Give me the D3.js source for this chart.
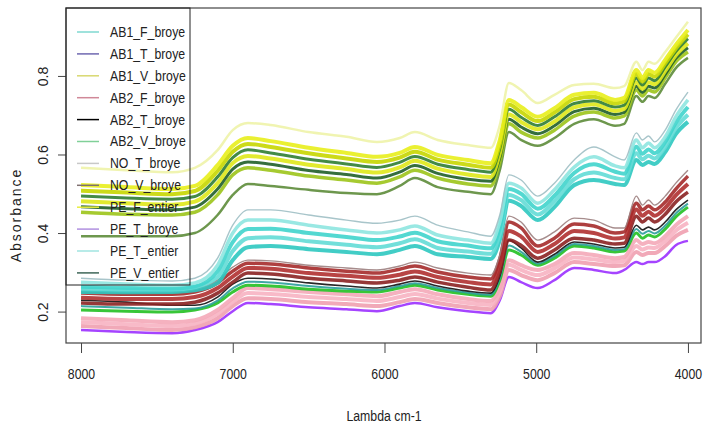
<!DOCTYPE html>
<html>
<head>
<meta charset="utf-8">
<script src="https://cdn.jsdelivr.net/npm/d3@7"></script>
<style>
  body { margin: 0; background: #fff; }
  text { fill: #222; }
</style>
</head>
<body>
<svg id="chart"></svg>
<script>
const wavenumbers = [8000, 7700, 7400, 7250, 7100, 7000, 6900, 6750, 6500, 6250, 6050, 5900, 5800, 5650, 5450, 5300,
    5240, 5180, 5100, 4990, 4880, 4750, 4620, 4480, 4420, 4340, 4300, 4260, 4220, 4150, 4080, 4000];

const groups = ["AB1_F_broye", "AB1_T_broye", "AB1_V_broye", "AB2_F_broye", "AB2_T_broye", "AB2_V_broye",
    "NO_T_broye", "NO_V_broye", "PE_F_entier", "PE_T_broye", "PE_T_entier", "PE_V_entier"];

const xTicks = [8000, 7000, 6000, 5000, 4000];
const yTicks = [0.2, 0.4, 0.6, 0.8];

// Upper (yellow / dark green) band
const upperTop = [0.566, 0.560, 0.555, 0.566, 0.611, 0.662, 0.680, 0.675, 0.657, 0.645, 0.632, 0.642, 0.657, 0.637, 0.624, 0.617, 0.675, 0.782, 0.764, 0.731, 0.752, 0.777, 0.780, 0.769, 0.774, 0.836, 0.815, 0.836, 0.831, 0.861, 0.897, 0.938];
const upperA = [0.522, 0.517, 0.512, 0.520, 0.573, 0.622, 0.642, 0.634, 0.617, 0.604, 0.594, 0.604, 0.619, 0.599, 0.586, 0.578, 0.637, 0.739, 0.721, 0.696, 0.718, 0.752, 0.757, 0.739, 0.744, 0.815, 0.795, 0.815, 0.808, 0.841, 0.879, 0.917];
const upperB = [0.508, 0.503, 0.499, 0.507, 0.558, 0.607, 0.627, 0.619, 0.603, 0.590, 0.581, 0.592, 0.607, 0.587, 0.574, 0.566, 0.626, 0.727, 0.708, 0.685, 0.707, 0.741, 0.747, 0.730, 0.735, 0.805, 0.786, 0.805, 0.798, 0.832, 0.870, 0.906];
const upperC = [0.494, 0.489, 0.486, 0.493, 0.543, 0.592, 0.612, 0.604, 0.588, 0.576, 0.567, 0.580, 0.595, 0.575, 0.562, 0.555, 0.615, 0.715, 0.695, 0.674, 0.696, 0.730, 0.737, 0.721, 0.726, 0.795, 0.777, 0.795, 0.788, 0.823, 0.862, 0.895];
const upperD = [0.481, 0.476, 0.472, 0.480, 0.527, 0.578, 0.596, 0.590, 0.574, 0.563, 0.554, 0.567, 0.584, 0.564, 0.549, 0.543, 0.603, 0.702, 0.683, 0.664, 0.684, 0.720, 0.728, 0.711, 0.716, 0.784, 0.767, 0.784, 0.779, 0.813, 0.853, 0.883];
const upperE = [0.467, 0.462, 0.459, 0.466, 0.512, 0.563, 0.581, 0.575, 0.559, 0.549, 0.540, 0.555, 0.572, 0.552, 0.537, 0.532, 0.592, 0.690, 0.670, 0.653, 0.673, 0.709, 0.718, 0.702, 0.707, 0.774, 0.758, 0.774, 0.769, 0.804, 0.845, 0.872];
const upperF = [0.453, 0.448, 0.446, 0.453, 0.497, 0.548, 0.566, 0.560, 0.545, 0.535, 0.527, 0.543, 0.560, 0.540, 0.525, 0.520, 0.581, 0.678, 0.657, 0.642, 0.662, 0.698, 0.708, 0.693, 0.698, 0.764, 0.749, 0.764, 0.759, 0.795, 0.836, 0.861];
const upperLow = [0.392, 0.392, 0.392, 0.400, 0.446, 0.497, 0.525, 0.520, 0.510, 0.502, 0.499, 0.520, 0.540, 0.517, 0.505, 0.499, 0.560, 0.657, 0.637, 0.622, 0.642, 0.678, 0.690, 0.673, 0.678, 0.749, 0.734, 0.749, 0.744, 0.780, 0.820, 0.846];

// Middle (turquoise) band
const turqTop = [0.285, 0.280, 0.278, 0.285, 0.336, 0.420, 0.459, 0.459, 0.446, 0.433, 0.425, 0.433, 0.443, 0.420, 0.403, 0.392, 0.446, 0.548, 0.535, 0.494, 0.527, 0.586, 0.619, 0.594, 0.586, 0.655, 0.637, 0.647, 0.632, 0.662, 0.713, 0.759];
const turqA = [0.275, 0.270, 0.267, 0.273, 0.318, 0.400, 0.433, 0.433, 0.420, 0.408, 0.400, 0.408, 0.418, 0.395, 0.382, 0.374, 0.428, 0.527, 0.515, 0.476, 0.510, 0.568, 0.594, 0.571, 0.566, 0.637, 0.617, 0.629, 0.617, 0.645, 0.696, 0.739];
const turqB = [0.263, 0.260, 0.259, 0.264, 0.303, 0.377, 0.410, 0.411, 0.400, 0.390, 0.382, 0.391, 0.401, 0.379, 0.368, 0.361, 0.413, 0.512, 0.500, 0.462, 0.495, 0.553, 0.575, 0.556, 0.551, 0.620, 0.602, 0.613, 0.603, 0.632, 0.681, 0.721];
const turqC = [0.258, 0.256, 0.256, 0.262, 0.288, 0.354, 0.387, 0.389, 0.379, 0.370, 0.364, 0.374, 0.384, 0.362, 0.353, 0.347, 0.397, 0.497, 0.484, 0.447, 0.481, 0.537, 0.554, 0.540, 0.537, 0.603, 0.588, 0.597, 0.590, 0.619, 0.667, 0.701];
const turqD = [0.250, 0.249, 0.250, 0.254, 0.273, 0.331, 0.364, 0.367, 0.359, 0.352, 0.346, 0.357, 0.367, 0.346, 0.339, 0.334, 0.382, 0.482, 0.469, 0.433, 0.466, 0.522, 0.535, 0.525, 0.522, 0.586, 0.573, 0.581, 0.576, 0.606, 0.652, 0.683];

// Lower (red / pink / mixed) band
const lowTop = [0.255, 0.252, 0.252, 0.257, 0.280, 0.313, 0.331, 0.329, 0.318, 0.311, 0.306, 0.316, 0.326, 0.311, 0.298, 0.293, 0.344, 0.443, 0.428, 0.382, 0.403, 0.438, 0.433, 0.413, 0.413, 0.494, 0.471, 0.484, 0.471, 0.494, 0.527, 0.560];
const redA = [0.247, 0.244, 0.244, 0.250, 0.273, 0.303, 0.323, 0.321, 0.311, 0.303, 0.298, 0.308, 0.316, 0.301, 0.288, 0.283, 0.334, 0.428, 0.413, 0.367, 0.387, 0.423, 0.418, 0.400, 0.403, 0.476, 0.459, 0.469, 0.459, 0.479, 0.512, 0.545];
const redM = [0.235, 0.232, 0.232, 0.237, 0.260, 0.289, 0.311, 0.309, 0.298, 0.291, 0.286, 0.294, 0.302, 0.288, 0.275, 0.269, 0.318, 0.405, 0.391, 0.352, 0.372, 0.405, 0.400, 0.386, 0.389, 0.460, 0.444, 0.454, 0.444, 0.464, 0.496, 0.525];
const redB = [0.222, 0.219, 0.219, 0.224, 0.247, 0.275, 0.298, 0.296, 0.285, 0.278, 0.273, 0.280, 0.288, 0.275, 0.262, 0.255, 0.301, 0.382, 0.369, 0.336, 0.357, 0.387, 0.382, 0.372, 0.374, 0.443, 0.428, 0.438, 0.428, 0.448, 0.479, 0.504];
const blackLine = [0.229, 0.224, 0.216, 0.216, 0.237, 0.270, 0.285, 0.283, 0.273, 0.265, 0.260, 0.270, 0.278, 0.265, 0.252, 0.247, 0.290, 0.382, 0.362, 0.326, 0.346, 0.377, 0.372, 0.362, 0.364, 0.420, 0.408, 0.415, 0.408, 0.428, 0.459, 0.484];
const tealLine = [0.214, 0.210, 0.206, 0.208, 0.228, 0.259, 0.276, 0.274, 0.265, 0.258, 0.255, 0.265, 0.272, 0.260, 0.248, 0.243, 0.285, 0.368, 0.352, 0.322, 0.341, 0.372, 0.367, 0.357, 0.359, 0.410, 0.398, 0.405, 0.399, 0.419, 0.450, 0.475];
const greenLine = [0.204, 0.201, 0.199, 0.204, 0.222, 0.250, 0.267, 0.265, 0.257, 0.252, 0.250, 0.260, 0.267, 0.255, 0.244, 0.239, 0.280, 0.357, 0.344, 0.318, 0.336, 0.367, 0.362, 0.352, 0.354, 0.400, 0.387, 0.395, 0.390, 0.410, 0.441, 0.466];
const pinkA = [0.183, 0.178, 0.173, 0.178, 0.204, 0.234, 0.260, 0.257, 0.250, 0.244, 0.239, 0.250, 0.257, 0.244, 0.232, 0.227, 0.260, 0.331, 0.318, 0.306, 0.321, 0.349, 0.344, 0.336, 0.339, 0.382, 0.372, 0.377, 0.374, 0.392, 0.420, 0.443];
const pinkM = [0.173, 0.168, 0.163, 0.169, 0.194, 0.224, 0.247, 0.245, 0.237, 0.232, 0.227, 0.237, 0.245, 0.233, 0.222, 0.217, 0.250, 0.319, 0.306, 0.293, 0.310, 0.338, 0.333, 0.326, 0.329, 0.367, 0.358, 0.363, 0.362, 0.380, 0.406, 0.426];
const pinkB = [0.163, 0.158, 0.153, 0.160, 0.183, 0.214, 0.234, 0.232, 0.224, 0.219, 0.214, 0.224, 0.232, 0.222, 0.211, 0.206, 0.239, 0.306, 0.293, 0.280, 0.298, 0.326, 0.321, 0.316, 0.318, 0.352, 0.344, 0.349, 0.349, 0.367, 0.392, 0.408];
const purpleLine = [0.153, 0.148, 0.145, 0.153, 0.173, 0.201, 0.222, 0.219, 0.211, 0.206, 0.201, 0.214, 0.222, 0.211, 0.201, 0.196, 0.229, 0.288, 0.275, 0.260, 0.280, 0.311, 0.306, 0.298, 0.306, 0.326, 0.321, 0.326, 0.326, 0.341, 0.369, 0.380];

// Legend colours, one per group
const groupColors = ["#7fd8d0", "#6f68b0", "#d8d870", "#d08898", "#000000", "#80d098",
    "#c8c8c8", "#807070", "#e8ee40", "#b090e0", "#a0e4e0", "#3e6658"];

// Drawing order: bottom band first, pale lines last
const spectra = [
    { values: purpleLine, color: "#9b30ff", w: 2.5 },
    { values: pinkB, color: "#f0a0b0", w: 4 },
    { values: pinkM, color: "#f7b3c2", w: 4 },
    { values: pinkA, color: "#f4a8b8", w: 4 },
    { values: greenLine, color: "#22c022", w: 3 },
    { values: tealLine, color: "#2a9d9a", w: 2 },
    { values: blackLine, color: "#111111", w: 1.6 },
    { values: redB, color: "#8b2222", w: 3.5 },
    { values: redM, color: "#b03030", w: 4 },
    { values: redA, color: "#a52a2a", w: 3.5 },
    { values: lowTop, color: "#9c8080", w: 1.4 },
    { values: turqD, color: "#2ec8c0", w: 4 },
    { values: turqC, color: "#63dcd6", w: 4 },
    { values: turqB, color: "#40d4cc", w: 4 },
    { values: turqA, color: "#8ee6e0", w: 3.5 },
    { values: turqTop, color: "#9fbfc4", w: 1.4 },
    { values: upperLow, color: "#5d8c3a", w: 2.5 },
    { values: upperF, color: "#9cc41a", w: 3.5 },
    { values: upperE, color: "#1f5e28", w: 3 },
    { values: upperD, color: "#dfe81a", w: 4 },
    { values: upperC, color: "#2f7d32", w: 3 },
    { values: upperB, color: "#c6d600", w: 4 },
    { values: upperA, color: "#e8ee1c", w: 4 },
    { values: upperTop, color: "#eef3a8", w: 2.5 }
];

const width = 704, height = 429;
const plot = { left: 66, right: 701, top: 8, bottom: 343 };
const narrow = "scale(0.82, 1)";   // the reference text is horizontally squeezed
const font = "'Liberation Sans', Arial, sans-serif";

const svg = d3.select("#chart")
    .attr("width", width)
    .attr("height", height);

svg.append("rect")
    .attr("width", width)
    .attr("height", height)
    .attr("fill", "#fff");

// Reversed wavenumber axis, as in the original spectrum plot
const x = d3.scaleLinear()
    .domain([8099, 3914])
    .range([plot.left, plot.right]);

const y = d3.scaleLinear()
    .domain([0.12, 0.973])
    .range([plot.bottom, plot.top]);

const line = d3.line()
    .x((d, i) => x(wavenumbers[i]))
    .y(d => y(d))
    .curve(d3.curveMonotoneX);

svg.append("g")
    .selectAll("path")
    .data(spectra)
    .join("path")
    .attr("fill", "none")
    .attr("stroke", d => d.color)
    .attr("stroke-width", d => d.w)
    .attr("stroke-linejoin", "round")
    .attr("opacity", 0.9)
    .attr("d", d => line(d.values));

// Plot frame
svg.append("rect")
    .attr("x", plot.left)
    .attr("y", plot.top)
    .attr("width", plot.right - plot.left)
    .attr("height", plot.bottom - plot.top)
    .attr("fill", "none")
    .attr("stroke", "#444")
    .attr("stroke-width", 1.2);

// X axis
const xAxis = svg.append("g")
    .attr("transform", `translate(0, ${plot.bottom})`)
    .call(d3.axisBottom(x).tickValues(xTicks).tickSize(10).tickPadding(15).tickFormat(d3.format("d")));
xAxis.select(".domain").remove();
xAxis.selectAll("line").attr("stroke", "#444");
xAxis.selectAll("text")
    .attr("transform", narrow)
    .attr("font-family", font)
    .attr("font-size", 15)
    .attr("fill", "#222");

// Y axis, labels turned like R's default
const yAxis = svg.append("g")
    .attr("transform", `translate(${plot.left}, 0)`)
    .call(d3.axisLeft(y).tickValues(yTicks).tickSize(8).tickFormat(d3.format(".1f")));
yAxis.select(".domain").remove();
yAxis.selectAll("line").attr("stroke", "#444");
yAxis.selectAll("text")
    .attr("x", null)
    .attr("dy", null)
    .attr("transform", "translate(-23, 0) rotate(-90)")
    .attr("text-anchor", "middle")
    .attr("dominant-baseline", "central")
    .attr("font-family", font)
    .attr("font-size", 14)
    .attr("fill", "#222");

// Axis titles
svg.append("text")
    .attr("transform", `translate(384, 421) ${narrow}`)
    .attr("text-anchor", "middle")
    .attr("font-family", font)
    .attr("font-size", 15)
    .text("Lambda cm-1");

svg.append("text")
    .attr("transform", "translate(16, 215) rotate(-90)")
    .attr("text-anchor", "middle")
    .attr("dominant-baseline", "central")
    .attr("font-family", font)
    .attr("font-size", 14)
    .attr("letter-spacing", 2)
    .text("Absorbance");

// Legend (transparent background, drawn over the curves)
const legend = svg.append("g");
legend.append("rect")
    .attr("x", plot.left)
    .attr("y", plot.top)
    .attr("width", 124)
    .attr("height", 277)
    .attr("fill", "none")
    .attr("stroke", "#222")
    .attr("stroke-width", 1);

const rows = legend.selectAll("g.row")
    .data(groups)
    .join("g")
    .attr("class", "row")
    .attr("transform", (d, i) => `translate(${plot.left}, ${32 + i * 21.9})`);

rows.append("line")
    .attr("x1", 11)
    .attr("x2", 33)
    .attr("stroke", (d, i) => groupColors[i])
    .attr("stroke-width", 1.5);

rows.append("text")
    .attr("transform", `translate(44, 0) ${narrow}`)
    .attr("dominant-baseline", "central")
    .attr("font-family", font)
    .attr("font-size", 15)
    .text(d => d);
</script>
</body>
</html>
